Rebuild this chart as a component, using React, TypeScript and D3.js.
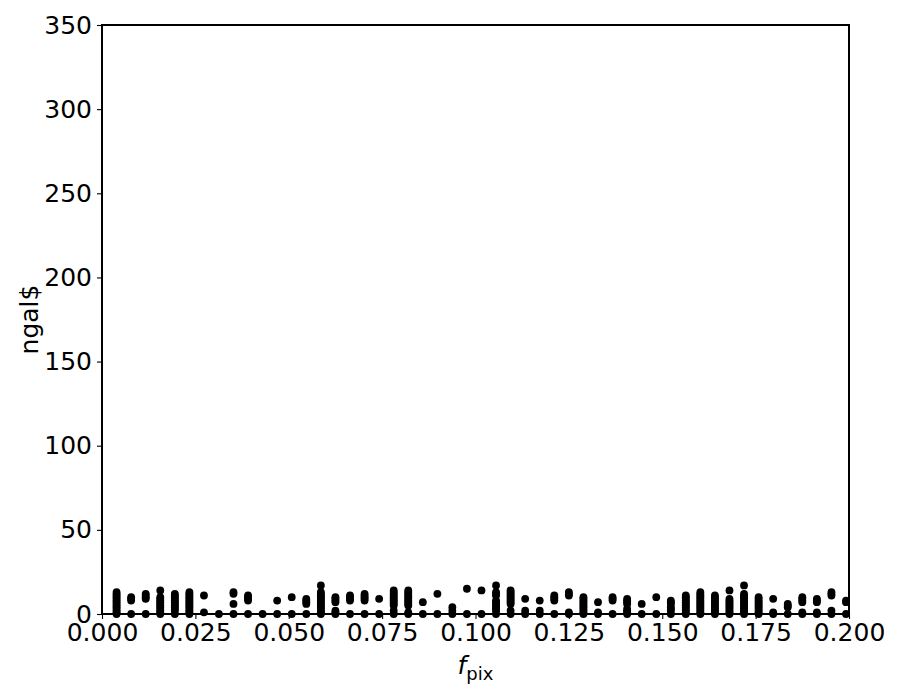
import React, { useRef, useEffect } from "react";
import * as d3 from "d3";

// pixel fraction of each column (k / 256)
const fpix = [
	0.0039, 0.0078, 0.0117, 0.0156, 0.0195, 0.0234, 0.0273, 0.0313, 0.0352, 0.0391,
	0.043, 0.0469, 0.0508, 0.0547, 0.0586, 0.0625, 0.0664, 0.0703, 0.0742, 0.0781,
	0.082, 0.0859, 0.0898, 0.0938, 0.0977, 0.1016, 0.1055, 0.1094, 0.1133, 0.1172,
	0.1211, 0.125, 0.1289, 0.1328, 0.1367, 0.1406, 0.1445, 0.1484, 0.1523, 0.1563,
	0.1602, 0.1641, 0.168, 0.1719, 0.1758, 0.1797, 0.1836, 0.1875, 0.1914, 0.1953,
	0.1992,
];

// galaxy counts seen at each fpix value
const ngal = [
	[0, 1, 2, 3, 4, 5, 6, 7, 8, 9, 10, 11, 12, 13],
	[0, 8, 9, 10],
	[0, 9, 10, 11, 12],
	[0, 1, 2, 3, 4, 5, 6, 7, 8, 9, 10, 14],
	[0, 2, 3, 4, 5, 6, 7, 8, 9, 10, 11, 12],
	[0, 1, 2, 3, 4, 5, 6, 7, 8, 9, 10, 11, 12, 13],
	[1, 11],
	[0],
	[0, 6, 12, 13],
	[0, 8, 9, 10, 11],
	[0],
	[0, 8],
	[0, 10],
	[0, 6, 7, 8, 9],
	[0, 1, 2, 3, 4, 5, 6, 7, 8, 9, 10, 11, 12, 13, 17],
	[0, 1, 2, 7, 8, 9, 10],
	[0, 8, 9, 10, 11],
	[0, 8, 9, 10, 11, 12],
	[0, 9],
	[0, 2, 5, 6, 7, 8, 9, 10, 11, 12, 13, 14],
	[0, 1, 5, 6, 7, 8, 9, 10, 11, 12, 13, 14],
	[0, 7],
	[0, 12],
	[0, 2, 4],
	[0, 15],
	[0, 14],
	[0, 2, 3, 4, 5, 6, 7, 8, 11, 12, 13, 17],
	[0, 2, 6, 7, 8, 9, 10, 11, 12, 13, 14],
	[0, 2, 9],
	[0, 2, 8],
	[0, 8, 9, 10, 11],
	[0, 1, 11, 12, 13],
	[0, 1, 2, 3, 4, 5, 6, 7, 8, 9, 10],
	[0, 1, 7],
	[0, 8, 9, 10],
	[0, 1, 2, 3, 6, 7, 8, 9],
	[0, 6],
	[0, 10],
	[0, 2, 3, 4, 6, 7, 8],
	[0, 1, 2, 3, 4, 5, 6, 7, 8, 9, 10, 11],
	[0, 1, 2, 3, 4, 5, 6, 7, 8, 9, 10, 11, 12, 13],
	[0, 1, 2, 3, 4, 5, 6, 7, 8, 9, 10, 11],
	[0, 1, 2, 3, 4, 5, 6, 7, 8, 9, 14],
	[0, 1, 2, 3, 4, 5, 6, 7, 8, 9, 10, 11, 12, 17],
	[0, 1, 2, 3, 4, 5, 6, 7, 8, 9, 10],
	[0, 1, 9],
	[0, 4, 5, 6],
	[0, 1, 7, 8, 9, 10],
	[0, 1, 7, 8, 9],
	[0, 2, 11, 12, 13],
	[0, 7, 8],
];

const xTicks = [0, 0.025, 0.05, 0.075, 0.1, 0.125, 0.15, 0.175, 0.2];
const yTicks = [0, 50, 100, 150, 200, 250, 300, 350];

const App = () => {
	const d3Container = useRef<SVGSVGElement | null>(null);

	useEffect(() => {
		if (!d3Container.current) return;
		const root = d3.select(d3Container.current);
		root.selectAll("*").remove();

		const margin = { top: 25, right: 51, bottom: 86, left: 102 };
		const width = 900 - margin.left - margin.right;
		const height = 700 - margin.top - margin.bottom;
		const font = "'DejaVu Sans', sans-serif";

		const points = fpix.flatMap((x, i) => ngal[i].map((y) => ({ x, y })));

		const xScale = d3.scaleLinear().domain([0, 0.2]).range([0, width]);
		const yScale = d3.scaleLinear().domain([0, 350]).range([height, 0]);

		const svg = root
			.append("g")
			.attr("transform", `translate(${margin.left},${margin.top})`);

		svg.append("g")
			.selectAll("circle")
			.data(points)
			.join("circle")
			.attr("cx", (d) => xScale(d.x))
			.attr("cy", (d) => yScale(d.y))
			.attr("r", 3.9)
			.attr("fill", "#000");

		const xAxis = svg
			.append("g")
			.attr("transform", `translate(0,${height})`)
			.call(
				d3
					.axisBottom(xScale)
					.tickValues(xTicks)
					.tickFormat(d3.format(".3f"))
					.tickSize(5)
					.tickPadding(4)
			);

		const yAxis = svg.append("g").call(
			d3
				.axisLeft(yScale)
				.tickValues(yTicks)
				.tickFormat(d3.format("d"))
				.tickSize(5)
				.tickPadding(5)
		);

		[xAxis, yAxis].forEach((ax) => {
			ax.select(".domain").remove();
			ax.selectAll(".tick line").attr("stroke", "#000").attr("stroke-width", 1.1);
			ax.selectAll(".tick text")
				.attr("fill", "#000")
				.style("font-family", font)
				.style("font-size", "25px");
		});

		// frame
		svg.append("rect")
			.attr("width", width)
			.attr("height", height)
			.attr("fill", "none")
			.attr("stroke", "#000")
			.attr("stroke-width", 1.1)
			.style("shape-rendering", "crispEdges");

		const xLabel = svg
			.append("text")
			.attr("x", width / 2)
			.attr("y", height + 60)
			.attr("text-anchor", "middle")
			.style("font-family", font)
			.style("font-size", "25px")
			.attr("fill", "#000");
		xLabel.append("tspan").attr("font-style", "italic").text("f");
		xLabel
			.append("tspan")
			.attr("dy", 6)
			.style("font-size", "18px")
			.text("pix");

		svg.append("text")
			.attr("transform", `translate(${-64},${height / 2}) rotate(-90)`)
			.attr("text-anchor", "middle")
			.style("font-family", font)
			.style("font-size", "25px")
			.attr("fill", "#000")
			.text("ngal$");
	}, []);

	return (
		<svg
			ref={d3Container}
			width={900}
			height={700}
			style={{ position: "absolute", left: 0, top: 0, background: "#fff" }}
		/>
	);
};

export default App;
